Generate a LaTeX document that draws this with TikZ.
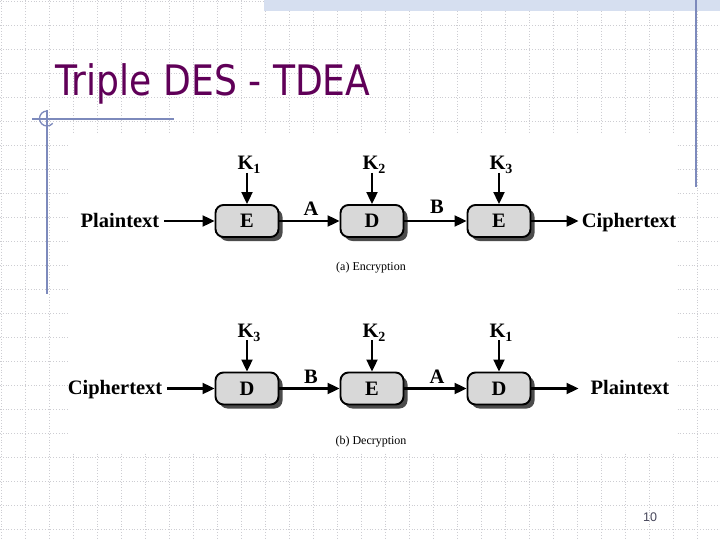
\documentclass[tikz,border=0pt]{standalone}
\usepackage{graphicx}
\usepackage{fontspec}
\setmainfont{Liberation Serif}
\newfontfamily\titlefont{DejaVu Sans}
\newfontfamily\numfont{Liberation Sans}
\usetikzlibrary{arrows.meta,shadows}
\definecolor{titlepurple}{RGB}{96,0,88}
\definecolor{gridgray}{RGB}{205,205,210}
\definecolor{bandblue}{RGB}{214,223,240}
\definecolor{decoblue}{RGB}{125,138,188}
\definecolor{boxgray}{RGB}{216,216,216}
\definecolor{numgray}{RGB}{70,70,90}
\tikzset{
  gridline/.style={draw=gridgray, dotted, line width=0.8pt},
  deco/.style={draw=decoblue, line width=1.3pt},
  blk/.style={draw, line width=1.9pt, rounded corners=8pt, fill=boxgray,
    minimum width=63pt, minimum height=32pt, inner sep=0pt,
    font=\fontsize{20.5}{20.5}\selectfont\bfseries,
    drop shadow={shadow xshift=4pt, shadow yshift=-4pt, fill=black!70, opacity=1}},
  lbl/.style={inner sep=0pt, anchor=base, font=\fontsize{20.5}{20.5}\selectfont\bfseries},
  captxt/.style={inner sep=0pt, anchor=base, font=\fontsize{12}{12}\selectfont},
  arr/.style={line width=2.1pt, -{Triangle[length=12pt,width=11pt]}},
}
\newcommand{\keylab}[1]{K\raisebox{-4pt}{\fontsize{14}{14}\selectfont #1}}
\begin{document}
\begin{tikzpicture}[x=1pt,y=-1pt]
\useasboundingbox (0,0) rectangle (720,540);
\fill[white] (0,0) rectangle (720,540);
% background grid
\foreach \gx in {1,25,...,720} \draw[gridline] (\gx,0) -- (\gx,540);
\foreach \gy in {1,25,...,540} \draw[gridline] (0,\gy) -- (720,\gy);
% top band
\fill[bandblue] (264,0) rectangle (720,11);
% white area of the figure
\fill[white] (70,133) rectangle (677,452);
% decorations
\draw[deco] (32,119) -- (174,119);
\draw[deco] (47,110) -- (47,294);
\draw[deco] (47,111) arc[start angle=-90, end angle=-320, radius=7.5];
\draw[deco] (696,0) -- (696,187);
% title
\node[anchor=base west, inner sep=0pt, text=titlepurple] (title) at (55,96)
  {\titlefont\fontsize{42}{42}\selectfont\scalebox{0.86}[1]{Triple DES - TDEA}};
% ---- encryption ----
\node[blk] (e1) at (247,221) {E};
\node[blk] (d1) at (372,221) {D};
\node[blk] (e2) at (499,221) {E};
\node[lbl] (k1a) at (249,170) {\keylab{1}};
\node[lbl] (k2a) at (374,170) {\keylab{2}};
\node[lbl] (k3a) at (501,170) {\keylab{3}};
\node[lbl] (pa) at (120,227) {Plaintext};
\node[lbl] (ca) at (629,227) {Ciphertext};
\node[lbl] (aa) at (311,215) {A};
\node[lbl] (ba) at (437,214) {B};
\node[captxt] (capa) at (371,270) {(a) Encryption};
\draw[arr] ([yshift=-3pt]k1a.base -| e1.north) -- (e1.north);
\draw[arr] ([yshift=-3pt]k2a.base -| d1.north) -- (d1.north);
\draw[arr] ([yshift=-3pt]k3a.base -| e2.north) -- (e2.north);
\draw[arr] ([xshift=5pt]pa.east |- e1.west) -- (e1.west);
\draw[arr] (e1.east) -- (d1.west);
\draw[arr] (d1.east) -- (e2.west);
\draw[arr] (e2.east) -- ([xshift=-3pt]ca.west |- e2.east);
% ---- decryption ----
\node[blk] (d2) at (247,388.5) {D};
\node[blk] (e3) at (372,388.5) {E};
\node[blk] (d3) at (499,388.5) {D};
\node[lbl] (k3b) at (249,337) {\keylab{3}};
\node[lbl] (k2b) at (374,337) {\keylab{2}};
\node[lbl] (k1b) at (501,337) {\keylab{1}};
\node[lbl] (cb) at (115,394.5) {Ciphertext};
\node[lbl] (pb) at (630,394.5) {Plaintext};
\node[lbl] (bb) at (311,383) {B};
\node[lbl] (ab) at (437,383) {A};
\node[captxt] (capb) at (371,444) {(b) Decryption};
\draw[arr] ([yshift=-3pt]k3b.base -| d2.north) -- (d2.north);
\draw[arr] ([yshift=-3pt]k2b.base -| e3.north) -- (e3.north);
\draw[arr] ([yshift=-3pt]k1b.base -| d3.north) -- (d3.north);
\draw[arr] ([xshift=5pt]cb.east |- d2.west) -- (d2.west);
\draw[arr] (d2.east) -- (e3.west);
\draw[arr] (e3.east) -- (d3.west);
\draw[arr] (d3.east) -- ([xshift=-12pt]pb.west |- d3.east);
% page number
\node[inner sep=0pt, text=numgray, font=\numfont\fontsize{12.5}{12.5}\selectfont] (num) at (650,517) {10};
\end{tikzpicture}
\end{document}
